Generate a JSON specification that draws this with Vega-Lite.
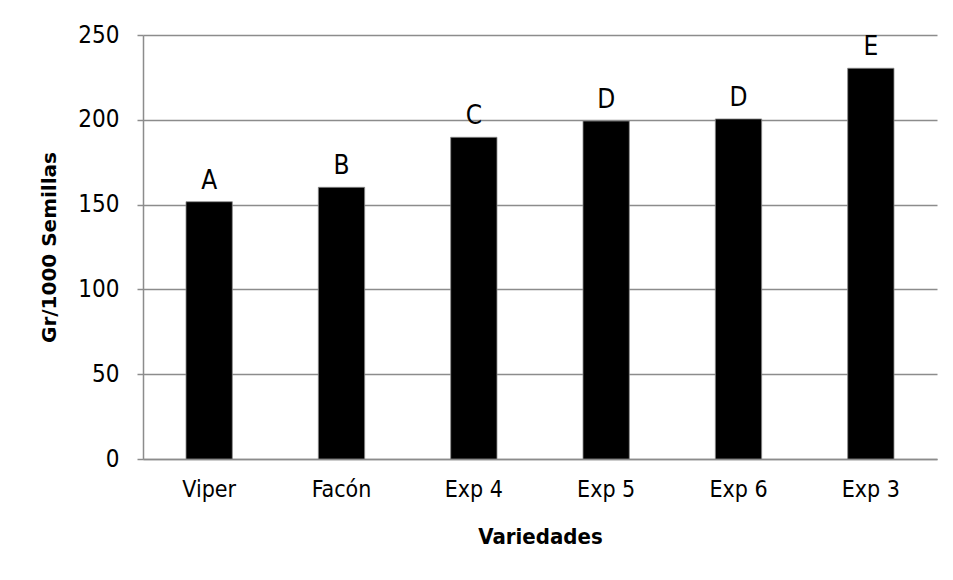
{
  "$schema": "https://vega.github.io/schema/vega-lite/v6.json",
  "autosize": {"type": "none"},
  "width": 794,
  "height": 424,
  "padding": {"left": 143, "top": 35, "right": 16, "bottom": 121},
  "background": "white",
  "data": {
    "values": [
      {"variedad": "Viper", "valor": 151.7, "letra": "A"},
      {"variedad": "Facón", "valor": 160.2, "letra": "B"},
      {"variedad": "Exp 4", "valor": 189.7, "letra": "C"},
      {"variedad": "Exp 5", "valor": 199.3, "letra": "D"},
      {"variedad": "Exp 6", "valor": 200.5, "letra": "D"},
      {"variedad": "Exp 3", "valor": 230.4, "letra": "E"}
    ]
  },
  "config": {
    "view": {"stroke": null},
    "font": "Liberation Sans Narrow, DejaVu Sans Condensed, sans-serif"
  },
  "encoding": {
    "x": {
      "field": "variedad",
      "type": "nominal",
      "sort": null,
      "scale": {"paddingInner": 0.65, "paddingOuter": 0.325},
      "axis": {
        "title": "Variedades",
        "titleFontSize": 22,
        "titleFontWeight": "bold",
        "titleColor": "black",
        "titlePadding": 25,
        "labelAngle": 0,
        "labelFontSize": 23,
        "labelColor": "black",
        "labelPadding": 19,
        "ticks": false,
        "domainColor": "#8c8c8c",
        "domainWidth": 1.5,
        "grid": false
      }
    },
    "y": {
      "field": "valor",
      "type": "quantitative",
      "scale": {"domain": [0, 250]},
      "axis": {
        "title": "Gr/1000 Semillas",
        "titleFont": "DejaVu Sans, sans-serif",
        "titleFontSize": 20,
        "titleFontWeight": "bold",
        "titleColor": "black",
        "titlePadding": 18,
        "values": [0, 50, 100, 150, 200, 250],
        "labelFontSize": 24,
        "labelColor": "black",
        "labelPadding": 18,
        "tickSize": 6,
        "tickColor": "#8c8c8c",
        "tickWidth": 1.5,
        "domainColor": "#8c8c8c",
        "domainWidth": 1.5,
        "gridColor": "#8c8c8c",
        "gridWidth": 1.5
      }
    }
  },
  "layer": [
    {"mark": {"type": "bar", "color": "black", "stroke": "#8c8c8c", "strokeWidth": 0.8}},
    {
      "mark": {"type": "text", "baseline": "alphabetic", "dy": -13, "fontSize": 26, "color": "black"},
      "encoding": {"text": {"field": "letra"}}
    }
  ]
}
